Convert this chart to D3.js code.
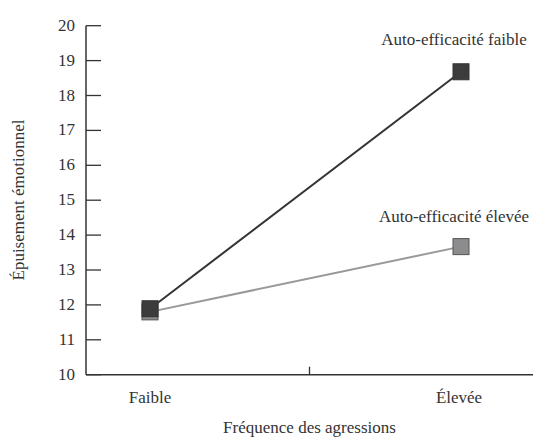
<!DOCTYPE html>
<html><head><meta charset="utf-8">
<script src="https://cdn.jsdelivr.net/npm/d3@7"></script>
<style>body{margin:0;background:#fff}svg{display:block}</style>
</head><body><svg id="c" width="533" height="438"></svg>
<script>
const categories = ["Faible", "Élevée"];
const seriesNames = ["Auto-efficacité élevée", "Auto-efficacité faible"];
const lowEfficacy = [11.89, 18.68];
const highEfficacy = [11.8, 13.67];
const yTicks = [10, 11, 12, 13, 14, 15, 16, 17, 18, 19, 20];

const FONT = "'Liberation Serif', 'Times New Roman', serif";
const FS = 17;
const TC = "#333";
const svg = d3.select("#c").attr("font-family", FONT).attr("fill", TC);
const x = d3.scalePoint().domain(categories).range([150, 461]);
const y = d3.scaleLinear().domain([10, 20]).range([374.7, 25.7]);
const ax = 86, axRight = 533;

function txt(sel){ return sel.attr("font-size",FS).attr("font-family",FONT).attr("fill",TC); }

// y axis
const gy = svg.append("g").attr("transform", `translate(${ax},0)`);
gy.append("line").attr("x1",0).attr("x2",0).attr("y1",y(20)).attr("y2",y(10)).attr("stroke","#333").attr("stroke-width",1.5);
gy.selectAll(".t").data(yTicks).join("line").attr("x1",0).attr("x2",15).attr("y1",d=>y(d)).attr("y2",d=>y(d)).attr("stroke","#333").attr("stroke-width",1.3);
txt(gy.selectAll(".l").data(yTicks).join("text").attr("x",-11).attr("y",d=>y(d)+5).attr("text-anchor","end")).text(d=>d);

// x axis
svg.append("line").attr("x1",ax).attr("x2",axRight).attr("y1",y(10)).attr("y2",y(10)).attr("stroke","#333").attr("stroke-width",1.5);
const midX = (ax + axRight) / 2;
svg.append("line").attr("x1",midX).attr("x2",midX).attr("y1",y(10)).attr("y2",y(10)-8).attr("stroke","#333").attr("stroke-width",1.3);
txt(svg.selectAll(".xl").data(categories).join("text").attr("x",(d,i)=>x(d)-(i?2:0)).attr("y",403).attr("text-anchor","middle")).text(d=>d);

txt(svg.append("text").attr("x",midX).attr("y",433).attr("text-anchor","middle")).text("Fréquence des agressions");
txt(svg.append("text").attr("transform","translate(24,200) rotate(-90)").attr("text-anchor","middle")).text("Épuisement émotionnel");

const line = d3.line().x((d,i)=>x(categories[i])).y(d=>y(d));
const series = [
  {name: seriesNames[0], values: highEfficacy, line:"#999", fill:"#8c8c8e", stroke:"#555"},
  {name: seriesNames[1], values: lowEfficacy, line:"#333", fill:"#3c3c3c", stroke:"#333"}
];
series.forEach(s=>{
  svg.append("path").attr("d", line(s.values)).attr("fill","none").attr("stroke",s.line).attr("stroke-width",2);
});
const sz = 16;
series.forEach(s=>{
  svg.selectAll(null).data(s.values).join("rect")
    .attr("x",(d,i)=>x(categories[i])-sz/2).attr("y",d=>y(d)-sz/2)
    .attr("width",sz).attr("height",sz).attr("fill",s.fill).attr("stroke",s.stroke).attr("stroke-width",1);
});
// series labels
txt(svg.append("text").attr("x",x(categories[1])-7).attr("y",y(lowEfficacy[1])-27).attr("text-anchor","middle")).text(seriesNames[1]);
txt(svg.append("text").attr("x",x(categories[1])-7).attr("y",y(highEfficacy[1])-25).attr("text-anchor","middle")).text(seriesNames[0]);
</script></body></html>
